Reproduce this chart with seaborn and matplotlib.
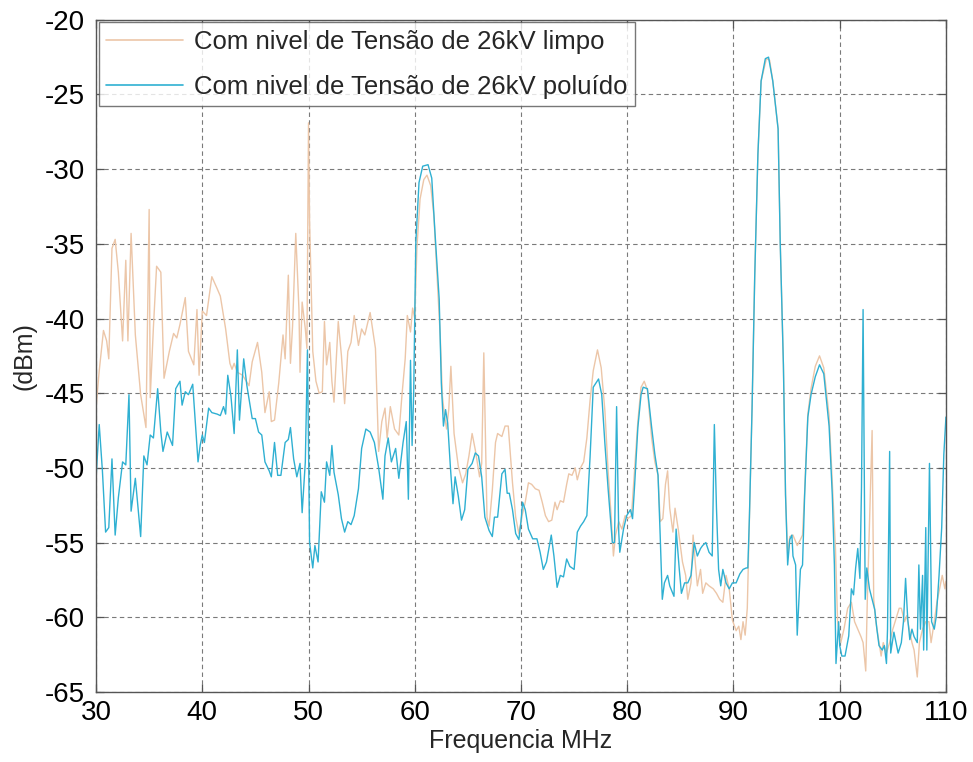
import numpy as np
import pandas as pd
import matplotlib
matplotlib.use("Agg")
import matplotlib.pyplot as plt
import seaborn as sns

# Spectrum at 26 kV, clean insulator
freq_limpo = [
    30.0, 30.3, 30.7, 31.0, 31.2, 31.5, 31.8, 32.1, 32.5, 32.8, 33.0, 33.3, 33.7, 34.2, 34.7,
    35.0, 35.1, 35.4, 35.7, 36.1, 36.4, 36.9, 37.3, 37.6, 37.9, 38.4, 38.7, 39.2, 39.5, 39.7,
    40.0, 40.4, 40.9, 41.4, 41.7, 42.2, 42.6, 42.8, 43.0, 43.3, 43.8, 44.4, 44.7, 45.2, 45.6,
    45.9, 46.3, 46.5, 46.8, 47.2, 47.6, 47.8, 48.1, 48.3, 48.5, 48.8, 49.1, 49.2, 49.4, 49.7,
    49.85, 50.0, 50.1, 50.4, 50.7, 51.0, 51.3, 51.5, 51.7, 52.0, 52.2, 52.4, 52.8, 53.1, 53.4,
    53.7, 54.0, 54.3, 54.7, 55.0, 55.3, 55.8, 56.3, 56.6, 56.9, 57.2, 57.4, 57.7, 58.1, 58.5,
    58.8, 59.1, 59.3, 59.6, 59.8, 60.0, 60.2, 60.5, 60.85, 61.15, 61.5, 61.8, 62.1, 62.4, 62.6,
    62.8, 63.0, 63.2, 63.4, 63.7, 64.1, 64.5, 64.8, 65.1, 65.4, 65.7, 66.1, 66.3, 66.5, 66.8,
    67.0, 67.3, 67.6, 67.8, 68.2, 68.5, 68.8, 69.2, 69.5, 69.8, 70.1, 70.4, 70.7, 71.0, 71.35,
    71.7, 72.0, 72.3, 72.6, 72.9, 73.2, 73.4, 73.7, 74.0, 74.3, 74.5, 74.8, 75.1, 75.3, 75.6,
    75.9, 76.2, 76.5, 76.8, 77.2, 77.55, 77.9, 78.2, 78.5, 78.7, 78.9, 79.2, 79.5, 79.8, 80.05,
    80.4, 80.7, 81.0, 81.3, 81.6, 81.9, 82.3, 82.6, 82.9, 83.1, 83.35, 83.6, 83.8, 84.0, 84.3,
    84.5, 84.8, 85.0, 85.2, 85.5, 85.7, 86.0, 86.2, 86.4, 86.6, 86.9, 87.1, 87.4, 87.7, 88.1,
    88.4, 88.7, 89.0, 89.3, 89.6, 89.9, 90.25, 90.5, 90.7, 90.9, 91.1, 91.3, 91.5, 91.75, 92.0,
    92.3, 92.6, 93.1, 93.4, 93.7, 94.2, 94.4, 94.7, 94.9, 95.1, 95.3, 95.6, 96.0, 96.3, 96.5,
    96.7, 97.0, 97.3, 97.7, 98.1, 98.5, 99.0, 99.3, 99.6, 99.8, 100.1, 100.4, 100.75, 101.1, 101.4,
    101.7, 102.0, 102.2, 102.45, 102.6, 102.9, 103.05, 103.2, 103.4, 103.7, 103.9, 104.1, 104.4, 104.7, 105.0,
    105.3, 105.6, 105.8, 106.1, 106.3, 106.6, 106.8, 107.0, 107.3, 107.5, 107.8, 108.1, 108.4, 108.6, 108.9,
    109.15, 109.4, 109.65, 109.9, 110.0,
]
dbm_limpo = [
    -46.0, -43.5, -40.8, -41.5, -42.7, -35.3, -34.7, -36.9, -41.5, -36.1, -41.5, -34.3, -41.1, -45.1, -47.3,
    -32.7, -45.3, -40.6, -36.5, -36.9, -44.0, -42.2, -41.0, -41.3, -40.4, -38.6, -42.2, -43.1, -39.4, -43.8,
    -39.5, -39.8, -37.2, -38.0, -38.5, -40.7, -43.0, -43.4, -43.0, -43.6, -43.8, -44.5, -42.9, -41.6, -43.6,
    -46.3, -44.9, -46.9, -46.8, -44.3, -41.1, -42.7, -37.1, -43.0, -40.5, -34.3, -39.4, -43.6, -38.9, -40.7,
    -42.0, -26.9, -33.5, -42.2, -44.2, -45.0, -44.9, -40.2, -43.1, -41.6, -44.2, -45.6, -40.2, -42.5, -45.7,
    -42.2, -41.6, -39.8, -41.8, -40.7, -41.1, -39.6, -42.0, -48.9, -46.9, -46.0, -48.0, -45.9, -47.4, -47.8,
    -45.1, -42.7, -39.8, -40.9, -39.3, -40.0, -35.3, -32.0, -30.7, -30.4, -31.1, -33.1, -37.1, -41.2, -45.2,
    -46.5, -47.4, -46.1, -43.2, -47.7, -49.9, -51.0, -50.4, -49.2, -47.7, -48.8, -50.6, -49.7, -42.3, -53.3,
    -53.9, -51.5, -48.3, -47.7, -47.9, -47.2, -47.2, -51.0, -53.3, -54.4, -53.2, -52.3, -51.0, -51.1, -51.4,
    -51.5, -52.3, -53.2, -53.6, -53.5, -52.3, -52.8, -52.2, -52.3, -51.1, -50.4, -50.5, -50.0, -50.8, -50.0,
    -49.6, -48.0, -45.5, -43.5, -42.1, -43.3, -46.2, -50.2, -53.4, -55.9, -54.5, -53.6, -54.1, -53.2, -53.4,
    -53.2, -50.0, -46.9, -44.6, -44.2, -44.8, -48.0, -49.6, -50.5, -53.6, -53.4, -51.1, -50.2, -52.7, -54.3,
    -52.7, -54.1, -55.2, -56.3, -57.2, -58.8, -57.7, -54.5, -56.3, -57.9, -56.8, -58.4, -57.7, -57.9, -58.1,
    -58.4, -58.8, -59.0, -57.2, -58.1, -60.2, -60.9, -60.6, -61.5, -60.3, -61.2, -59.4, -53.5, -46.0, -37.2,
    -29.0, -24.1, -22.6, -22.7, -24.1, -27.3, -34.9, -43.1, -51.8, -55.8, -54.6, -54.5, -55.2, -54.8, -54.5,
    -51.6, -46.4, -44.7, -43.2, -42.5, -43.3, -46.5, -51.0, -55.4, -60.3, -61.7, -60.8, -59.4, -59.0, -60.3,
    -60.8, -61.3, -61.7, -63.6, -58.8, -51.3, -47.5, -58.8, -60.3, -61.7, -62.6, -61.7, -62.4, -61.7, -60.8,
    -60.1, -59.4, -59.4, -60.3, -59.9, -61.0, -61.7, -62.2, -64.0, -61.7, -60.8, -60.3, -60.3, -61.7, -60.3,
    -59.0, -58.1, -57.2, -58.1, -57.6,
]

# Spectrum at 26 kV, polluted insulator
freq_poluido = [
    30.0, 30.3, 30.6, 30.9, 31.2, 31.5, 31.8, 32.1, 32.5, 32.8, 33.1, 33.3, 33.7, 34.2, 34.5,
    34.8, 35.1, 35.4, 35.8, 36.1, 36.3, 36.7, 37.2, 37.5, 37.9, 38.1, 38.4, 38.7, 39.1, 39.6,
    39.8, 40.0, 40.2, 40.6, 40.9, 41.4, 41.7, 42.0, 42.2, 42.4, 42.7, 43.0, 43.3, 43.5, 43.9,
    44.2, 44.7, 45.0, 45.3, 45.6, 45.9, 46.3, 46.5, 46.8, 47.1, 47.4, 47.8, 48.1, 48.3, 48.6,
    48.9, 49.2, 49.4, 49.7, 49.9, 50.1, 50.4, 50.6, 50.9, 51.2, 51.5, 51.7, 52.0, 52.2, 52.4,
    52.8, 53.1, 53.4, 53.7, 54.0, 54.3, 54.7, 55.0, 55.4, 55.8, 56.2, 56.6, 57.0, 57.2, 57.5,
    57.8, 58.2, 58.5, 58.9, 59.2, 59.4, 59.6, 59.75, 59.9, 60.1, 60.4, 60.75, 61.25, 61.6, 61.9,
    62.3, 62.5, 62.7, 62.9, 63.1, 63.35, 63.6, 63.8, 64.1, 64.4, 64.7, 65.0, 65.4, 65.7, 66.0,
    66.3, 66.6, 67.0, 67.3, 67.5, 67.8, 68.2, 68.5, 68.7, 68.9, 69.2, 69.5, 69.8, 70.0, 70.15,
    70.4, 70.7, 71.1, 71.5, 71.8, 72.1, 72.4, 72.85, 73.1, 73.4, 73.7, 74.0, 74.3, 74.6, 75.0,
    75.3, 75.6, 75.9, 76.2, 76.5, 76.8, 77.3, 77.6, 77.9, 78.2, 78.6, 78.8, 79.0, 79.2, 79.3,
    79.65, 79.95, 80.3, 80.5, 80.7, 81.0, 81.3, 81.5, 81.9, 82.3, 82.6, 82.9, 83.1, 83.3, 83.5,
    83.8, 84.0, 84.4, 84.6, 84.9, 85.1, 85.4, 85.7, 86.0, 86.3, 86.6, 86.9, 87.1, 87.4, 87.7,
    88.0, 88.2, 88.4, 88.6, 88.8, 89.0, 89.3, 89.6, 89.9, 90.25, 90.6, 90.9, 91.2, 91.35, 91.5,
    91.75, 92.0, 92.3, 92.6, 93.0, 93.3, 93.7, 94.2, 94.4, 94.7, 94.9, 95.1, 95.3, 95.5, 95.6,
    95.85, 96.0, 96.3, 96.5, 96.7, 97.0, 97.3, 97.7, 98.1, 98.5, 99.0, 99.3, 99.5, 99.65, 99.9,
    100.0, 100.2, 100.5, 100.85, 101.1, 101.3, 101.5, 101.7, 101.9, 102.05, 102.2, 102.4, 102.55, 102.8, 103.05,
    103.3, 103.5, 103.7, 104.0, 104.2, 104.4, 104.5, 104.7, 104.8, 105.1, 105.3, 105.5, 105.8, 106.0, 106.2,
    106.4, 106.6, 106.8, 107.0, 107.3, 107.45, 107.6, 107.8, 107.9, 108.1, 108.2, 108.45, 108.65, 108.9, 109.1,
    109.35, 109.6, 109.8, 110.0,
]
dbm_poluido = [
    -50.7, -47.1, -50.2, -54.3, -54.0, -49.4, -54.5, -52.0, -49.6, -49.8, -45.1, -52.9, -50.7, -54.6, -49.2,
    -49.8, -47.8, -48.0, -44.7, -47.6, -48.9, -47.6, -48.5, -44.7, -44.2, -45.8, -44.9, -45.1, -44.4, -49.6,
    -48.5, -47.8, -48.3, -46.0, -46.3, -46.4, -46.5, -45.9, -46.4, -43.8, -45.2, -47.7, -42.1, -46.8, -42.7,
    -44.5, -46.7, -46.7, -47.6, -47.8, -49.6, -50.2, -50.6, -48.3, -50.5, -50.5, -48.3, -48.1, -47.3, -49.4,
    -50.6, -49.7, -53.0, -49.6, -42.1, -55.0, -56.7, -55.2, -56.3, -51.6, -52.3, -49.6, -50.5, -48.5, -50.3,
    -51.8, -53.4, -54.3, -53.6, -53.8, -53.2, -51.4, -48.7, -47.4, -47.6, -48.3, -50.0, -52.1, -49.2, -48.0,
    -49.6, -48.7, -50.7, -48.3, -46.9, -52.1, -42.8, -48.5, -45.0, -34.9, -30.9, -29.8, -29.7, -30.6, -34.2,
    -38.7, -44.3, -47.2, -46.1, -47.0, -49.9, -52.4, -50.6, -51.9, -53.5, -52.8, -50.1, -49.7, -49.0, -49.2,
    -50.6, -53.3, -54.2, -54.6, -53.3, -53.3, -50.4, -50.1, -51.7, -51.7, -52.8, -54.4, -54.8, -53.6, -52.3,
    -52.8, -54.1, -54.75, -54.75, -55.65, -56.8, -56.3, -54.5, -55.9, -58.0, -57.2, -57.3, -56.1, -56.6, -56.8,
    -54.3, -53.9, -53.6, -53.2, -49.3, -44.6, -44.05, -45.1, -48.4, -51.4, -55.0, -55.0, -45.9, -54.3, -55.65,
    -54.1, -53.2, -52.8, -53.4, -51.1, -47.3, -45.1, -44.6, -44.7, -47.3, -49.1, -50.5, -54.5, -58.8, -57.7,
    -57.2, -57.9, -58.6, -54.1, -56.8, -58.4, -57.7, -57.7, -57.2, -55.0, -55.9, -55.4, -55.2, -55.0, -55.65,
    -55.9, -47.1, -52.7, -56.8, -57.9, -56.8, -57.7, -58.1, -57.7, -57.7, -57.1, -56.8, -56.7, -56.7, -53.3,
    -46.0, -37.2, -29.0, -24.1, -22.6, -22.5, -24.1, -27.3, -34.9, -43.1, -51.8, -56.5, -54.8, -54.5, -55.9,
    -56.5, -61.2, -56.8, -56.5, -51.8, -46.6, -45.1, -43.9, -43.1, -43.7, -47.2, -51.8, -56.5, -63.1, -60.3,
    -61.9, -62.6, -62.6, -61.25, -58.1, -58.5, -56.7, -55.4, -57.4, -51.3, -39.4, -58.8, -56.7, -58.1, -58.8,
    -59.5, -60.8, -61.9, -62.2, -61.9, -63.1, -60.8, -48.9, -62.4, -61.0, -61.7, -62.4, -61.7, -60.3, -57.4,
    -60.1, -61.5, -60.8, -61.3, -61.7, -56.5, -60.8, -57.2, -62.2, -54.0, -62.2, -49.7, -60.3, -60.8, -59.9,
    -57.2, -54.0, -49.1, -46.6,
]

series_labels = [
    "Com nivel de Tensão de 26kV limpo",
    "Com nivel de Tensão de 26kV poluído",
]
series_colors = ["#ecc6a8", "#2fb0d2"]

x_ticks = [30, 40, 50, 60, 70, 80, 90, 100, 110]
y_ticks = [-65, -60, -55, -50, -45, -40, -35, -30, -25, -20]

df = pd.concat([
    pd.DataFrame({"freq": freq_limpo, "dbm": dbm_limpo, "serie": series_labels[0]}),
    pd.DataFrame({"freq": freq_poluido, "dbm": dbm_poluido, "serie": series_labels[1]}),
], ignore_index=True)

sns.set_style("white")
plt.rcParams["font.family"] = ["Liberation Sans", "DejaVu Sans"]
plt.rcParams["axes.unicode_minus"] = False

fig = plt.figure(figsize=(9.73, 7.62), dpi=100)
ax = fig.add_axes([0.0987, 0.092, 0.8735, 0.882])

sns.lineplot(
    data=df, x="freq", y="dbm", hue="serie", hue_order=series_labels,
    palette=dict(zip(series_labels, series_colors)),
    estimator=None, sort=False, linewidth=1.0, ax=ax,
)

ax.set_xlim(30, 110)
ax.set_ylim(-65, -20)
ax.set_xticks(x_ticks)
ax.set_yticks(y_ticks)
ax.set_xticklabels([str(t) for t in x_ticks])
ax.set_yticklabels([str(t) for t in y_ticks])

ax.grid(True, color="#7a7a7a", linestyle=(0, (4, 3)), linewidth=0.8)
ax.set_axisbelow(True)

for side in ax.spines.values():
    side.set_color("#555555")
    side.set_linewidth(1.0)
ax.tick_params(direction="in", length=6, width=0.9, colors="#555555",
               labelcolor="black", labelsize=20, top=True, right=True,
               bottom=True, left=True)
ax.tick_params(axis="x", pad=6)
ax.tick_params(axis="y", pad=8)

ax.set_xlabel("Frequencia MHz", fontsize=18, labelpad=2)
ax.set_ylabel("(dBm)", fontsize=18, labelpad=6)

leg = ax.legend(loc="upper left", fontsize=18.5, frameon=True, fancybox=False,
                edgecolor="#555555", borderaxespad=0.1, handlelength=3.0,
                labelspacing=0.8, borderpad=0.3, handletextpad=0.4)
leg.get_frame().set_linewidth(1.0)
for line in leg.get_lines():
    line.set_linewidth(1.2)

fig.savefig("out.png", dpi=100)
